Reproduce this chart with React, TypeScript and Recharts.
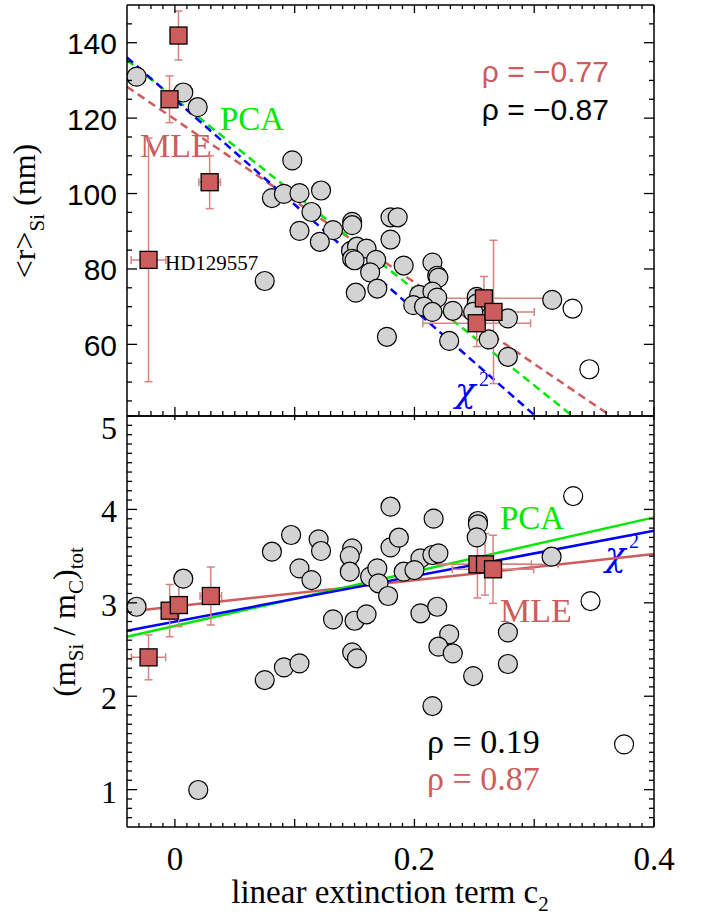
import React from 'react';
import { ScatterChart, Scatter, XAxis, YAxis, ErrorBar, ReferenceLine } from 'recharts';

// ---------------- data ----------------
const xDomain: [number, number] = [-0.04, 0.4];
const topYDomain: [number, number] = [41, 150];
const botYDomain: [number, number] = [0.6, 5];

const xTickValues = Array.from({ length: 44 }, (_, i) => (i - 3) / 100);
const xMajorValues = [0, 0.1, 0.2, 0.3, 0.4];
const xLabelValues = [0, 0.2, 0.4];

const topYTickValues = Array.from({ length: 21 }, (_, i) => 45 + i * 5);
const topYMajorValues = [60, 80, 100, 120, 140];
const topYLabelValues = [60, 80, 100, 120, 140];

const botYTickValues = Array.from({ length: 44 }, (_, i) => Math.round(7 + i) / 10);
const botYMajorValues = [1, 2, 3, 4];
const botYLabelValues = [1, 2, 3, 4, 5];

// top panel: <r>_Si (nm)
const topStars = [
  { x: -0.032, y: 131.0 }, { x: 0.007, y: 126.8 }, { x: 0.019, y: 122.9 }, { x: 0.098, y: 108.8 },
  { x: 0.081, y: 98.8 }, { x: 0.091, y: 99.9 }, { x: 0.104, y: 100.1 }, { x: 0.122, y: 100.8 },
  { x: 0.114, y: 95.1 }, { x: 0.104, y: 90.1 }, { x: 0.132, y: 90.3 }, { x: 0.121, y: 87.2 },
  { x: 0.148, y: 92.5 }, { x: 0.148, y: 91.6 }, { x: 0.18, y: 93.7 }, { x: 0.186, y: 93.7 },
  { x: 0.18, y: 87.8 }, { x: 0.147, y: 84.8 }, { x: 0.152, y: 85.9 }, { x: 0.16, y: 85.4 },
  { x: 0.148, y: 82.7 }, { x: 0.15, y: 82.3 }, { x: 0.168, y: 82.4 }, { x: 0.191, y: 80.9 },
  { x: 0.163, y: 79.1 }, { x: 0.169, y: 74.8 }, { x: 0.151, y: 73.7 }, { x: 0.075, y: 76.8 },
  { x: 0.177, y: 62.0 }, { x: 0.215, y: 81.7 }, { x: 0.219, y: 78.2 }, { x: 0.22, y: 77.7 },
  { x: 0.204, y: 73.1 }, { x: 0.215, y: 74.0 }, { x: 0.219, y: 72.4 }, { x: 0.199, y: 70.4 },
  { x: 0.208, y: 70.0 }, { x: 0.215, y: 68.6 }, { x: 0.232, y: 68.9 }, { x: 0.229, y: 60.9 },
  { x: 0.252, y: 72.6 }, { x: 0.252, y: 70.8 }, { x: 0.249, y: 68.6 }, { x: 0.262, y: 61.3 },
  { x: 0.278, y: 66.9 }, { x: 0.278, y: 56.7 }, { x: 0.315, y: 71.8 },
];
const topOpen = [{ x: 0.332, y: 69.5 }, { x: 0.346, y: 53.4 }];
const topSquares = [
  { x: 0.003, y: 141.9, ex: 0, ey: 6.5 },
  { x: -0.0045, y: 125.0, ex: 0, ey: 6.2 },
  { x: 0.029, y: 103.0, ex: 0.009, ey: 7 },
  { x: -0.022, y: 82.4, ex: 0.0145, ey: 32.3 },
  { x: 0.258, y: 72.2, ex: 0.061, ey: 5.8 },
  { x: 0.252, y: 65.6, ex: 0.045, ey: 6.2 },
  { x: 0.266, y: 68.6, ex: 0.034, ey: 19 },
];
const topChiLine = [{ x: -0.04, y: 136.1 }, { x: 0.301, y: 41 }];
const topPcaLine = [{ x: -0.04, y: 135.4 }, { x: 0.332, y: 41 }];
const topMleLine = [{ x: -0.04, y: 128.3 }, { x: 0.364, y: 41 }];

// bottom panel: (mSi / mC)_tot
const botStars = [
  { x: -0.032, y: 2.958 }, { x: 0.007, y: 3.258 }, { x: 0.0195, y: 0.996 }, { x: 0.081, y: 3.547 },
  { x: 0.097, y: 3.726 }, { x: 0.104, y: 3.369 }, { x: 0.114, y: 3.244 }, { x: 0.12, y: 3.68 },
  { x: 0.122, y: 3.555 }, { x: 0.075, y: 2.173 }, { x: 0.091, y: 2.309 }, { x: 0.104, y: 2.352 },
  { x: 0.132, y: 2.823 }, { x: 0.148, y: 3.583 }, { x: 0.146, y: 3.501 }, { x: 0.146, y: 3.333 },
  { x: 0.15, y: 2.808 }, { x: 0.16, y: 2.877 }, { x: 0.148, y: 2.47 }, { x: 0.152, y: 2.406 },
  { x: 0.163, y: 3.28 }, { x: 0.169, y: 3.369 }, { x: 0.17, y: 3.209 }, { x: 0.178, y: 3.073 },
  { x: 0.18, y: 4.029 }, { x: 0.18, y: 3.594 }, { x: 0.187, y: 3.697 }, { x: 0.191, y: 3.333 },
  { x: 0.216, y: 3.901 }, { x: 0.253, y: 3.876 }, { x: 0.253, y: 3.84 }, { x: 0.252, y: 3.701 },
  { x: 0.205, y: 3.476 }, { x: 0.215, y: 3.512 }, { x: 0.22, y: 3.53 }, { x: 0.2, y: 3.351 },
  { x: 0.205, y: 2.888 }, { x: 0.219, y: 2.958 }, { x: 0.229, y: 2.663 }, { x: 0.22, y: 2.53 },
  { x: 0.232, y: 2.459 }, { x: 0.249, y: 2.216 }, { x: 0.215, y: 1.895 }, { x: 0.278, y: 2.684 },
  { x: 0.278, y: 2.345 }, { x: 0.3145, y: 3.494 },
];
const botOpen = [{ x: 0.3325, y: 4.143 }, { x: 0.347, y: 3.019 }, { x: 0.375, y: 1.485 }];
const botSquares = [
  { x: -0.022, y: 2.416, ex: 0.0143, ey: 0.24 },
  { x: -0.0044, y: 2.916, ex: 0, ey: 0.28 },
  { x: 0.0033, y: 2.976, ex: 0, ey: 0.23 },
  { x: 0.03, y: 3.073, ex: 0.009, ey: 0.31 },
  { x: 0.2526, y: 3.412, ex: 0.045, ey: 0.36 },
  { x: 0.2589, y: 3.412, ex: 0.061, ey: 0.33 },
  { x: 0.2656, y: 3.359, ex: 0.034, ey: 0.365 },
];
const botPcaLine = [{ x: -0.04, y: 2.637 }, { x: 0.4, y: 3.915 }];
const botChiLine = [{ x: -0.04, y: 2.702 }, { x: 0.4, y: 3.772 }];
const botMleLine = [{ x: -0.04, y: 2.905 }, { x: 0.4, y: 3.522 }];

// ---------------- styles ----------------
const SERIF = '"Liberation Serif", "Times New Roman", serif';
const SANS = '"Liberation Sans", Arial, sans-serif';
const GREEKIT = '"DejaVu Serif", "Liberation Serif", serif';
const RED = '#cd5c5c';
const ERR = '#d98282';
const GREEN = '#00e800';
const BLUE = '#0000ff';

const near = (v: number, arr: number[]) => arr.some((a) => Math.abs(a - v) < 1e-6);

type TickCfg = {
  side: 'left' | 'right' | 'top' | 'bottom';
  majors: number[];
  majorLen: number;
  minorLen: number;
  labels?: number[];
  fmt?: (v: number) => string;
  font?: string;
  size?: number;
  gap?: number;
  dy?: (v: number) => number;
};

const makeTick = (cfg: TickCfg) => (props: any) => {
  const { x, y, payload } = props;
  const v = payload.value as number;
  const len = near(v, cfg.majors) ? cfg.majorLen : cfg.minorLen;
  let x2 = x;
  let y2 = y;
  if (cfg.side === 'left') x2 = x + len;
  if (cfg.side === 'right') x2 = x - len;
  if (cfg.side === 'bottom') y2 = y - len;
  if (cfg.side === 'top') y2 = y + len;
  const hasLabel = cfg.labels && near(v, cfg.labels);
  return (
    <g>
      {len > 0 && <line x1={x} y1={y} x2={x2} y2={y2} stroke="#000" strokeWidth={1.3} />}
      {hasLabel && cfg.side === 'left' && (
        <text x={x - (cfg.gap || 10)} y={y + (cfg.dy ? cfg.dy(v) : 0)} textAnchor="end" dominantBaseline="central"
          fontFamily={cfg.font} fontSize={cfg.size} fill="#000">{cfg.fmt ? cfg.fmt(v) : String(v)}</text>
      )}
      {hasLabel && cfg.side === 'bottom' && (
        <text x={x} y={y + (cfg.gap || 40)} textAnchor="middle"
          fontFamily={cfg.font} fontSize={cfg.size} fill="#000">{cfg.fmt ? cfg.fmt(v) : String(v)}</text>
      )}
    </g>
  );
};

const Circle = (fill: string) => (props: any) => (
  <circle cx={props.cx} cy={props.cy} r={9.5} fill={fill} stroke="#000" strokeWidth={1.2} />
);
const Square = (props: any) => (
  <rect x={props.cx - 8.5} y={props.cy - 8.5} width={17} height={17} fill={RED} stroke="#000" strokeWidth={1.3} />
);

const axisLine = { stroke: '#000', strokeWidth: 1.5 };

export default function App() {
  return (
    <div style={{ position: 'absolute', left: 0, top: 0, width: 702, height: 916, background: '#fff' }}>
      {/* ---------- top panel: plot y 5..416 ---------- */}
      <div style={{ position: 'absolute', left: 0, top: 0 }}>
        <ScatterChart width={702} height={417} margin={{ top: 4, right: 47, bottom: 0, left: 0 }}>
          <XAxis xAxisId="b" type="number" dataKey="x" domain={xDomain} allowDataOverflow ticks={xTickValues}
            interval={0} height={1} tickSize={0} tickMargin={0} tickLine={false} axisLine={axisLine}
            tick={makeTick({ side: 'bottom', majors: xMajorValues, majorLen: 9, minorLen: 5 })} />
          <XAxis xAxisId="t" orientation="top" type="number" dataKey="x" domain={xDomain} allowDataOverflow ticks={xTickValues}
            interval={0} height={1} tickSize={0} tickMargin={0} tickLine={false} axisLine={axisLine}
            tick={makeTick({ side: 'top', majors: xMajorValues, majorLen: 8, minorLen: 4 })} />
          <YAxis yAxisId="l" type="number" dataKey="y" domain={topYDomain} allowDataOverflow ticks={topYTickValues}
            interval={0} width={127} tickSize={0} tickMargin={0} tickLine={false} axisLine={axisLine}
            tick={makeTick({ side: 'left', majors: topYMajorValues, majorLen: 10, minorLen: 5, labels: topYLabelValues, font: SANS, size: 30, gap: 10, dy: () => 1 })} />
          <YAxis yAxisId="r" orientation="right" type="number" dataKey="y" domain={topYDomain} allowDataOverflow ticks={topYTickValues}
            interval={0} width={1} tickSize={0} tickMargin={0} tickLine={false} axisLine={axisLine}
            tick={makeTick({ side: 'right', majors: topYMajorValues, majorLen: 10, minorLen: 5 })} />

          <Scatter xAxisId="b" yAxisId="l" data={topStars} shape={Circle('#d3d3d3')} isAnimationActive={false} />
          <Scatter xAxisId="b" yAxisId="l" data={topOpen} shape={Circle('#ffffff')} isAnimationActive={false} />

          <ReferenceLine xAxisId="b" yAxisId="l" segment={topMleLine} stroke={RED} strokeWidth={2.5} strokeDasharray="8 5" />
          <ReferenceLine xAxisId="b" yAxisId="l" segment={topPcaLine} stroke={GREEN} strokeWidth={2.5} strokeDasharray="8 5" />
          <ReferenceLine xAxisId="b" yAxisId="l" segment={topChiLine} stroke={BLUE} strokeWidth={2.5} strokeDasharray="8 5" />

          <Scatter xAxisId="b" yAxisId="l" data={topSquares} shape={Square} isAnimationActive={false}>
            <ErrorBar dataKey="ey" direction="y" width={4} stroke={ERR} strokeWidth={1.5} />
            <ErrorBar dataKey="ex" direction="x" width={4} stroke={ERR} strokeWidth={1.5} />
          </Scatter>

          <text x={220} y={130} fontFamily={SERIF} fontSize={33} fill={GREEN}>PCA</text>
          <text x={140} y={157} fontFamily={SERIF} fontSize={34} fill={RED}>MLE</text>
          <text x={165} y={270} fontFamily={SERIF} fontSize={21} fill="#000">HD129557</text>
          <text x={609} y={82} textAnchor="end" fontFamily={SANS} fontSize={30} fill={RED}>ρ = −0.77</text>
          <text x={609} y={120} textAnchor="end" fontFamily={SANS} fontSize={30} fill="#000">ρ = −0.87</text>
          <text x={455} y={402} fontFamily={GREEKIT} fontStyle="italic" fontSize={34} fill={BLUE}>χ</text>
          <text x={479} y={386} fontFamily={SERIF} fontSize={20} fill={BLUE}>2</text>

          <text transform="rotate(-90, 35, 211)" x={35} y={211} textAnchor="middle" fontFamily={SERIF} fontSize={32} fill="#000">
            {'<r>'}<tspan fontSize={21} dy={9}>Si</tspan><tspan dy={-9}> (nm)</tspan>
          </text>
        </ScatterChart>
      </div>

      {/* ---------- bottom panel: plot y 416..827 ---------- */}
      <div style={{ position: 'absolute', left: 0, top: 395 }}>
        <ScatterChart width={702} height={521} margin={{ top: 20, right: 47, bottom: 88, left: 0 }}>
          <XAxis xAxisId="b" type="number" dataKey="x" domain={xDomain} allowDataOverflow ticks={xTickValues}
            interval={0} height={1} tickSize={0} tickMargin={0} tickLine={false} axisLine={axisLine}
            tick={makeTick({ side: 'bottom', majors: xMajorValues, majorLen: 8, minorLen: 4, labels: xLabelValues, font: SERIF, size: 33, gap: 43 })} />
          <XAxis xAxisId="t" orientation="top" type="number" dataKey="x" domain={xDomain} allowDataOverflow ticks={xMajorValues}
            interval={0} height={1} tickSize={0} tickMargin={0} tickLine={false} axisLine={axisLine}
            tick={makeTick({ side: 'top', majors: xMajorValues, majorLen: 4, minorLen: 0 })} />
          <YAxis yAxisId="l" type="number" dataKey="y" domain={botYDomain} allowDataOverflow ticks={botYTickValues}
            interval={0} width={127} tickSize={0} tickMargin={0} tickLine={false} axisLine={axisLine}
            tick={makeTick({ side: 'left', majors: botYMajorValues, majorLen: 10, minorLen: 5, labels: botYLabelValues, font: SERIF, size: 32, gap: 10, dy: (v) => (v === 5 ? 12 : 2) })} />
          <YAxis yAxisId="r" orientation="right" type="number" dataKey="y" domain={botYDomain} allowDataOverflow ticks={botYTickValues}
            interval={0} width={1} tickSize={0} tickMargin={0} tickLine={false} axisLine={axisLine}
            tick={makeTick({ side: 'right', majors: botYMajorValues, majorLen: 10, minorLen: 5 })} />

          <Scatter xAxisId="b" yAxisId="l" data={botStars} shape={Circle('#d3d3d3')} isAnimationActive={false} />
          <Scatter xAxisId="b" yAxisId="l" data={botOpen} shape={Circle('#ffffff')} isAnimationActive={false} />

          <ReferenceLine xAxisId="b" yAxisId="l" segment={botMleLine} stroke={RED} strokeWidth={2.5} />
          <ReferenceLine xAxisId="b" yAxisId="l" segment={botPcaLine} stroke={GREEN} strokeWidth={2.5} />
          <ReferenceLine xAxisId="b" yAxisId="l" segment={botChiLine} stroke={BLUE} strokeWidth={2.5} />

          <Scatter xAxisId="b" yAxisId="l" data={botSquares} shape={Square} isAnimationActive={false}>
            <ErrorBar dataKey="ey" direction="y" width={4} stroke={ERR} strokeWidth={1.5} />
            <ErrorBar dataKey="ex" direction="x" width={4} stroke={ERR} strokeWidth={1.5} />
          </Scatter>

          <text x={500} y={134} fontFamily={SERIF} fontSize={33} fill={GREEN}>PCA</text>
          <text x={500} y={227} fontFamily={SERIF} fontSize={34} fill={RED}>MLE</text>
          <text x={605} y={171} fontFamily={GREEKIT} fontStyle="italic" fontSize={34} fill={BLUE}>χ</text>
          <text x={629} y={153} fontFamily={SERIF} fontSize={20} fill={BLUE}>2</text>
          <text x={427} y={358} fontFamily={SERIF} fontSize={34} fill="#000">ρ = 0.19</text>
          <text x={427} y={395} fontFamily={SERIF} fontSize={34} fill={RED}>ρ = 0.87</text>

          <text transform="rotate(-90, 75, 227)" x={75} y={227} textAnchor="middle" fontFamily={SERIF} fontSize={32} fill="#000">
            (m<tspan fontSize={21} dy={8}>Si</tspan><tspan dy={-8}> / m</tspan><tspan fontSize={21} dy={8}>C</tspan><tspan dy={-8}>)</tspan><tspan fontSize={21} dy={8}>tot</tspan>
          </text>
          <text x={390} y={508} textAnchor="middle" fontFamily={SERIF} fontSize={33} fill="#000">
            linear extinction term c<tspan fontSize={21} dy={8}>2</tspan>
          </text>
        </ScatterChart>
      </div>
    </div>
  );
}
